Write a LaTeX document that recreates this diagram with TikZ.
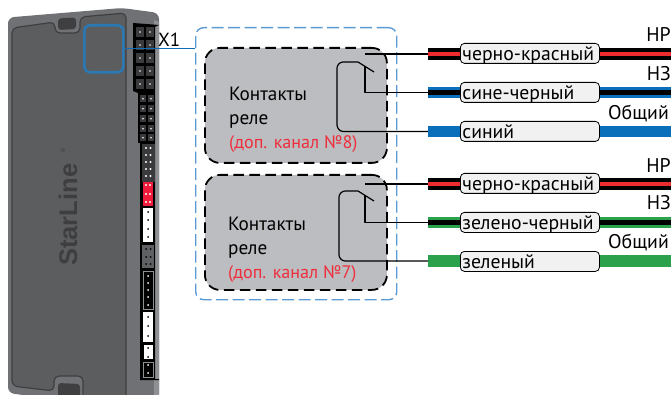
\documentclass[tikz,border=0pt]{standalone}
\usepackage{fontspec}
\setmainfont{PT Sans}
\newfontfamily\logofont{Liberation Sans}
\definecolor{bodyfront}{HTML}{5C5D5F}
\definecolor{bodyside}{HTML}{707174}
\definecolor{bodylight}{HTML}{8E9093}
\definecolor{bodyline}{HTML}{3F3F41}
\definecolor{logocol}{HTML}{3E3E40}
\definecolor{portblue}{HTML}{2A78B4}
\definecolor{linkblue}{HTML}{0F6DB5}
\definecolor{dashblue}{HTML}{5B9BD5}
\definecolor{boxgray}{HTML}{BCBDC0}
\definecolor{wireblue}{HTML}{0A6FBB}
\definecolor{wiregreen}{HTML}{2BA14B}
\definecolor{wirered}{HTML}{EE2B2E}
\definecolor{pillfill}{HTML}{F1F1F2}
\definecolor{labelred}{HTML}{EE2E3C}
\definecolor{portred}{HTML}{EE1C3A}
\definecolor{portdark}{HTML}{3A3A3C}
\tikzset{
  x=1pt,y=-1pt,
  relaybox/.style={draw=black,fill=boxgray,line width=1.8pt,rounded corners=15pt,dash pattern=on 10.5pt off 5.5pt},
  outerbox/.style={draw=dashblue,line width=1.4pt,rounded corners=8pt,dash pattern=on 12pt off 4.5pt},
  contact/.style={draw=black,line width=1.2pt,line join=round},
  pill/.style={draw=black,fill=pillfill,line width=.8pt,rounded corners=4pt,anchor=north west,
    minimum width=139pt,text width=135pt,inner xsep=2pt,inner ysep=1pt,text height=16pt,text depth=2pt,
    font=\fontsize{19.7}{20}\selectfont,align=left},
  relaytext/.style={anchor=base west,inner sep=0pt,font=\fontsize{19.2}{20}\selectfont},
  redtext/.style={anchor=base west,inner sep=0pt,text=labelred,font=\fontsize{18.1}{20}\selectfont},
  endlabel/.style={anchor=base east,inner sep=0pt,font=\fontsize{19.8}{20}\selectfont},
  bandblack/.style={draw=black,line width=12pt},
  bandred/.style={draw=wirered,line width=4pt},
  bandblue/.style={draw=wireblue,line width=11.5pt},
  bandgreen/.style={draw=wiregreen,line width=11.5pt},
  bandthin/.style={draw=black,line width=4.2pt},
}
\begin{document}
\begin{tikzpicture}
\useasboundingbox (0,0) rectangle (671,395);
% device body
\fill[bodyside,rounded corners=6pt] (8,393) -- (8,17.5) -- (122,8) -- (159,13) -- (159,400) -- (60,400) -- cycle;
\fill[bodylight] (154,20) -- (159,22) -- (159,395) -- (154,395) -- cycle;
\fill[bodyfront,rounded corners=5pt] (12,378) -- (12,28) -- (55,22) -- (55,33) -- (80,33) -- (80,17) -- (126,13) -- (126,400) -- (83,400) -- (83,376) -- (54,376) -- (54,391) -- (12,386) -- cycle;
\draw[bodyline,line width=1.2pt,rounded corners=5pt] (83,400) -- (83,376) -- (54,376) -- (54,391) -- (12,386) -- (12,28) -- (55,22) -- (55,33) -- (80,33) -- (80,17) -- (126,13) -- (126,400);
\fill[bodyline,rounded corners=3pt] (58,18.5) -- (76,17.5) -- (76,29) -- (58,30) -- cycle;
\fill[bodyline,rounded corners=3pt] (58,383) -- (80,384) -- (80,400) -- (58,400) -- cycle;
\node[rotate=90,anchor=base west,inner sep=0pt,text=logocol,font=\logofont\bfseries\fontsize{25.5}{26}\selectfont] (logo) at (77,266) {StarLine};
\node[rotate=90,inner sep=0pt,text=logocol,font=\logofont\fontsize{6}{6}\selectfont] (reg) at (63,150) {®};
% connector strip
\fill[black] (133,23) -- (159,25) -- (155,27) -- (155,379) -- (159,379) -- (159,380) -- (140,380) -- (140,143) -- (138,143) -- (138,93) -- (133,91) -- cycle;
\foreach \yy in {27,40,53,66,79} {
  \foreach \xx in {136,146} {
    \fill[portdark] (\xx,\yy) rectangle ++(8,10);
    \fill[white] (\xx+4,\yy+5) circle (.9pt);
  }
}
\foreach \yy in {95,105,115,125,134} {
  \foreach \xx in {140,148} {
    \fill[portdark] (\xx,\yy) rectangle ++(6,7.5);
    \fill[white] (\xx+3,\yy+3.7) circle (.9pt);
  }
}
\fill[portdark] (142,144) rectangle (155,182);
\foreach \yy in {148,155,162,169,176} {
  \foreach \xx in {146,150.5} { \fill[white] (\xx,\yy) circle (1.1pt); }
}
\fill[portred] (143,182) rectangle (153,206);
\foreach \yy in {185,194,202} {
  \foreach \xx in {146,150} { \fill[white] (\xx,\yy) circle (1.1pt); }
}
\fill[white] (143,208) rectangle (153,242);
\foreach \yy in {212,220,229,237} { \fill[black] (148,\yy) circle (1pt); }
\fill[bodyside!85!black] (142,245) rectangle (154,268);
\foreach \yy in {249,257,264} {
  \foreach \xx in {146,150.5} { \fill[black] (\xx,\yy) circle (1pt); }
}
\draw[bodylight,fill=black,line width=.8pt] (143.5,271) rectangle (153,309);
\foreach \yy in {276,283,290,297,305} { \fill[white] (148,\yy) circle (1pt); }
\fill[white] (143,312) rectangle (153,342);
\foreach \yy in {317,326,336} { \fill[black] (148,\yy) circle (1pt); }
\fill[white] (144,345) rectangle (153,359);
\foreach \yy in {348,357} { \fill[black] (148,\yy) circle (1pt); }
\draw[bodylight,fill=black,line width=.8pt] (143.5,362) rectangle (153,377);
\foreach \yy in {365,373} { \fill[white] (148,\yy) circle (1pt); }
% X1 port highlight
\node[draw=portblue,line width=2.6pt,rounded corners=6pt,minimum width=39pt,minimum height=47pt,inner sep=0pt,anchor=north west] (port) at (83,24) {};
\node[anchor=base west,inner sep=0pt,font=\fontsize{19}{19}\selectfont] (xone) at (158,47) {X1};
% outer dashed frame
\node[outerbox,minimum width=201pt,minimum height=272pt,inner sep=0pt,anchor=north west] (outer) at (195,27) {};
\coordinate (xlink) at (port.east);
\draw[draw=linkblue,line width=1.1pt] (xlink) -- (outer.west |- xlink);
% relay boxes
\node[relaybox,minimum width=182pt,minimum height=115pt,inner sep=0pt,anchor=north west] (relayA) at (204,47) {};
\node[relaybox,minimum width=182pt,minimum height=115pt,inner sep=0pt,anchor=north west] (relayB) at (204,174) {};
\node[relaytext] (tA1) at (229,101) {Контакты};
\node[relaytext] (tA2) at (229,125) {реле};
\node[redtext] (tA3) at (229,149) {(доп. канал №8)};
\node[relaytext] (tB1) at (228,230) {Контакты};
\node[relaytext] (tB2) at (228,254) {реле};
\node[redtext] (tB3) at (228,278) {(доп. канал №7)};
% wire ends
\coordinate (a1s) at (428,54); \coordinate (a1e) at (671,54);
\coordinate (a2s) at (428,92.5); \coordinate (a2e) at (671,92.5);
\coordinate (a3s) at (428,131.5); \coordinate (a3e) at (671,131.5);
\coordinate (b1s) at (428,184); \coordinate (b1e) at (671,184);
\coordinate (b2s) at (428,222.5); \coordinate (b2e) at (671,222.5);
\coordinate (b3s) at (428,261); \coordinate (b3e) at (671,261);
% bands
\draw[bandblack] (a1s) -- (a1e); \draw[bandred] (a1s) -- (a1e);
\draw[bandblue] (a2s) -- (a2e); \draw[bandthin] (a2s) -- (a2e);
\draw[bandblue] (a3s) -- (a3e);
\draw[bandblack] (b1s) -- (b1e); \draw[bandred] (b1s) -- (b1e);
\draw[bandgreen] (b2s) -- (b2e); \draw[bandthin] (b2s) -- (b2e);
\draw[bandgreen] (b3s) -- (b3e);
% contacts
\coordinate (a1i) at (365,54); \coordinate (a2i) at (365,66); \coordinate (a3i) at (374,72);
\draw[contact] (a1i) -- (a1s);
\draw[contact] (a2i) |- (a2s);
\draw[contact] (a3i) -- (358,62) -- (343,62) to[out=180,in=90,looseness=.9] (337,68) -- (337,125) to[out=-90,in=180,looseness=.9] (343,131.5) -- (a3s);
\coordinate (b1i) at (365,184); \coordinate (b2i) at (365,195); \coordinate (b3i) at (374,201);
\draw[contact] (b1i) -- (b1s);
\draw[contact] (b2i) |- (b2s);
\draw[contact] (b3i) -- (358,191) -- (345,191) to[out=180,in=90,looseness=.9] (339,197) -- (339,255) to[out=-90,in=180,looseness=.9] (345,261) -- (b3s);
% pills
\node[pill] (p1) at (460,43) {черно-красный};
\node[pill] (p2) at (460,82) {сине-черный};
\node[pill] (p3) at (460,121) {синий};
\node[pill] (p4) at (460,173) {черно-красный};
\node[pill] (p5) at (460,212) {зелено-черный};
\node[pill] (p6) at (460,251) {зеленый};
% end labels
\node[endlabel] (e1) at (671,42) {НР};
\node[endlabel] (e2) at (671,81) {НЗ};
\node[endlabel] (e3) at (669,120) {Общий};
\node[endlabel] (e4) at (671,173) {НР};
\node[endlabel] (e5) at (671,210) {НЗ};
\node[endlabel] (e6) at (669,248) {Общий};
\end{tikzpicture}
\end{document}
